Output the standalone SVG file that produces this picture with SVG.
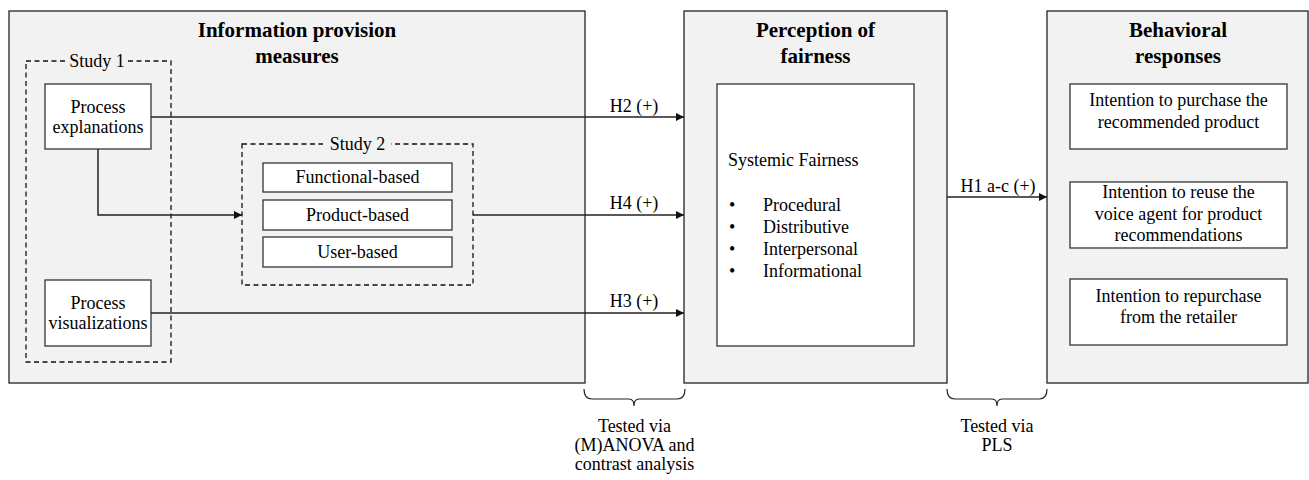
<svg xmlns="http://www.w3.org/2000/svg" width="1309" height="480" viewBox="0 0 1309 480">
<style>
text{font-family:"Liberation Serif","Times New Roman",serif;font-size:18px;fill:#000}
.t{font-weight:bold;font-size:21px;text-anchor:middle}
.c{text-anchor:middle}
.outer{fill:#f2f2f2;stroke:#333;stroke-width:1.4}
.inner{fill:#fff;stroke:#333;stroke-width:1.3}
.dash{fill:none;stroke:#111;stroke-width:1.3;stroke-dasharray:5 3.5}
.conn{fill:none;stroke:#222;stroke-width:1.5}
.brace{fill:none;stroke:#222;stroke-width:1.2}
</style>
<defs>
<marker id="ah" viewBox="0 0 10 10" refX="10" refY="5" markerWidth="9" markerHeight="8" markerUnits="userSpaceOnUse" orient="auto"><path d="M0,0L10,5L0,10z" fill="#111"/></marker>
</defs>
<g id="info-measures">
<rect class="outer" x="9" y="11" width="576" height="372"/>
<text class="t" x="297" y="37">Information provision</text>
<text class="t" x="297" y="63">measures</text>
</g>
<g id="study1">
<rect class="dash" x="26" y="61" width="145" height="301"/>
<rect x="67" y="52" width="60" height="18" fill="#f2f2f2"/>
<text class="c" x="97" y="67">Study 1</text>
</g>
<g id="process-explanations">
<rect class="inner" x="45" y="84" width="106" height="65"/>
<text class="c" x="98" y="113">Process</text>
<text class="c" x="98" y="133">explanations</text>
</g>
<g id="process-visualizations">
<rect class="inner" x="45" y="280" width="106" height="66"/>
<text class="c" x="98" y="309">Process</text>
<text class="c" x="98" y="329">visualizations</text>
</g>
<g id="study2">
<rect class="dash" x="242" y="144" width="231" height="141"/>
<rect x="323" y="135" width="68" height="18" fill="#f2f2f2"/>
<text class="c" x="357.5" y="150">Study 2</text>
</g>
<g id="functional-based">
<rect class="inner" x="263" y="163" width="189" height="29"/>
<text class="c" x="357.5" y="183">Functional-based</text>
</g>
<g id="product-based">
<rect class="inner" x="263" y="200" width="189" height="30"/>
<text class="c" x="357.5" y="221">Product-based</text>
</g>
<g id="user-based">
<rect class="inner" x="263" y="237" width="189" height="30"/>
<text class="c" x="357.5" y="258">User-based</text>
</g>
<g id="perception-fairness">
<rect class="outer" x="684" y="11" width="263" height="372"/>
<text class="t" x="815.5" y="37">Perception of</text>
<text class="t" x="815.5" y="63">fairness</text>
</g>
<g id="systemic-fairness">
<rect class="inner" x="717" y="84" width="197" height="262"/>
<text x="728" y="166">Systemic Fairness</text>
<text x="729" y="211">•</text><text x="763" y="211">Procedural</text>
<text x="729" y="233">•</text><text x="763" y="233">Distributive</text>
<text x="729" y="255">•</text><text x="763" y="255">Interpersonal</text>
<text x="729" y="277">•</text><text x="763" y="277">Informational</text>
</g>
<g id="behavioral-responses">
<rect class="outer" x="1047" y="11" width="261" height="372"/>
<text class="t" x="1178" y="37">Behavioral</text>
<text class="t" x="1178" y="63">responses</text>
</g>
<g id="intent-purchase">
<rect class="inner" x="1070" y="84" width="217" height="65"/>
<text class="c" x="1178.5" y="106">Intention to purchase the</text>
<text class="c" x="1178.5" y="128">recommended product</text>
</g>
<g id="intent-reuse">
<rect class="inner" x="1070" y="182" width="217" height="66"/>
<text class="c" x="1178.5" y="198">Intention to reuse the</text>
<text class="c" x="1178.5" y="220">voice agent for product</text>
<text class="c" x="1178.5" y="241">recommendations</text>
</g>
<g id="intent-repurchase">
<rect class="inner" x="1070" y="279" width="217" height="66"/>
<text class="c" x="1178.5" y="302">Intention to repurchase</text>
<text class="c" x="1178.5" y="323">from the retailer</text>
</g>
<g id="connectors">
<path class="conn" d="M151,117H684" marker-end="url(#ah)"/>
<path class="conn" d="M98,149V215H242" marker-end="url(#ah)"/>
<path class="conn" d="M473,215H684" marker-end="url(#ah)"/>
<path class="conn" d="M151,313H684" marker-end="url(#ah)"/>
<path class="conn" d="M947,197H1047" marker-end="url(#ah)"/>
<text class="c" x="634" y="112">H2 (+)</text>
<text class="c" x="634" y="209">H4 (+)</text>
<text class="c" x="634" y="307">H3 (+)</text>
<text class="c" x="998" y="192">H1 a-c (+)</text>
</g>
<g id="brace-anova">
<path class="brace" d="M584,389Q584,399 592,399H629Q634,399 634,406Q634,399 639,399H677Q685,399 685,389"/>
<text class="c" x="634.5" y="432">Tested via</text>
<text class="c" x="634.5" y="451">(M)ANOVA and</text>
<text class="c" x="634.5" y="470">contrast analysis</text>
</g>
<g id="brace-pls">
<path class="brace" d="M947,389Q947,399 955,399H992Q997,399 997,406Q997,399 1002,399H1039Q1047,399 1047,389"/>
<text class="c" x="997" y="432">Tested via</text>
<text class="c" x="997" y="451">PLS</text>
</g>
</svg>
